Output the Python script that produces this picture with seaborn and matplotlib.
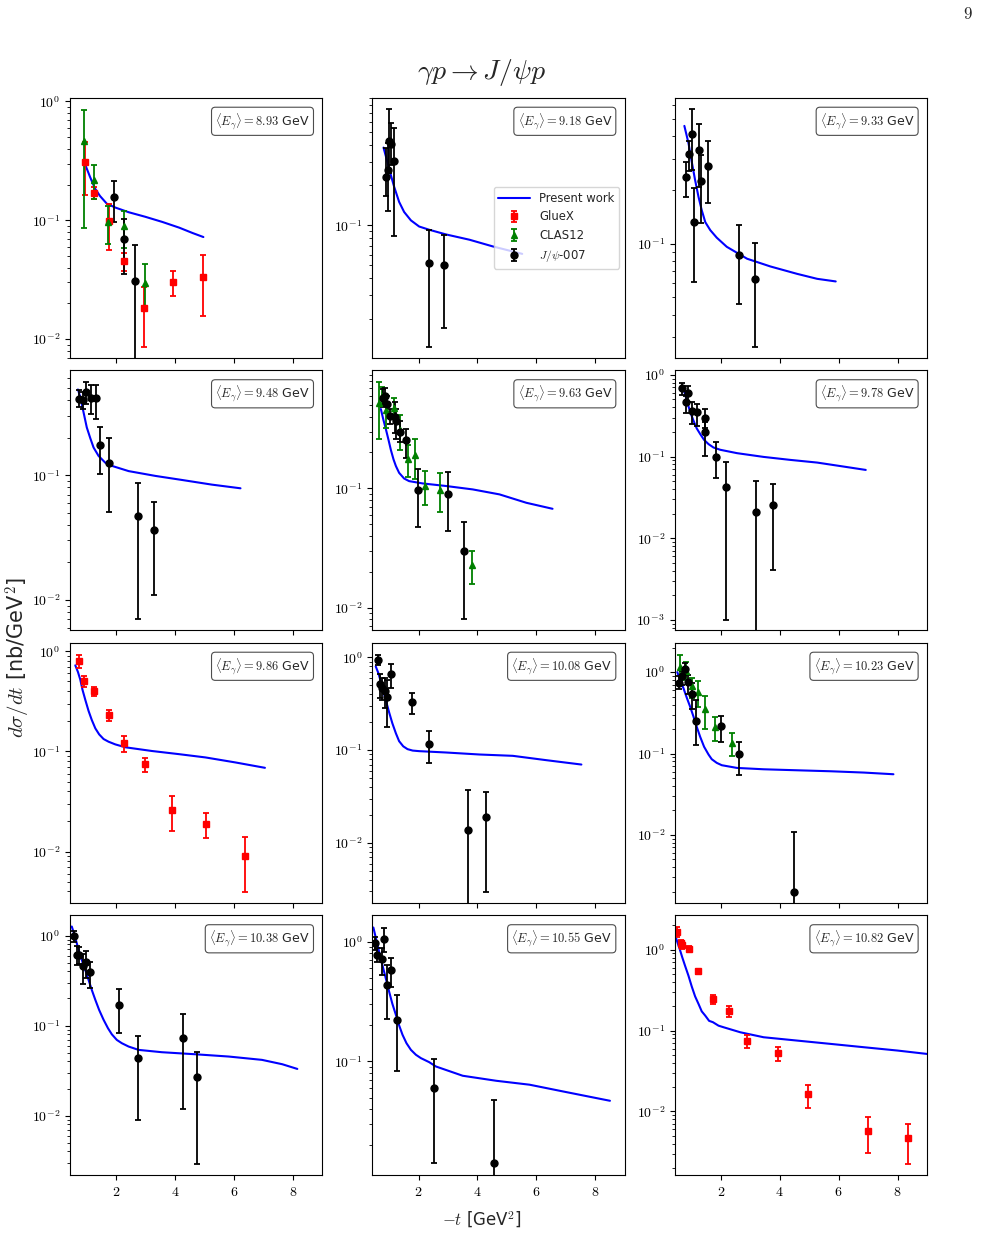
import numpy as np
import matplotlib
matplotlib.use("Agg")
import matplotlib.pyplot as plt
from matplotlib.ticker import FuncFormatter, NullFormatter
import seaborn as sns

# beam energies (one panel each)
ENERGIES = [8.93, 9.18, 9.33, 9.48, 9.63, 9.78, 9.86, 10.08, 10.23, 10.38, 10.55, 10.82]

# present work: -t [GeV^2], dsigma/dt [nb/GeV^2]
MODEL = {
    8.93: ([0.94, 1.11, 1.28, 1.45, 1.68, 1.97, 2.42, 2.99, 3.57, 4.14, 4.59, 4.96],
           [0.297, 0.232, 0.185, 0.160, 0.138, 0.128, 0.117, 0.107, 0.0968, 0.0867, 0.0782, 0.0723]),
    9.18: ([0.81, 0.94, 1.06, 1.17, 1.34, 1.51, 1.74, 2.02, 2.36, 2.93, 3.73, 4.52, 5.52],
           [0.383, 0.300, 0.238, 0.195, 0.150, 0.126, 0.109, 0.098, 0.0927, 0.0855, 0.078, 0.0695, 0.0611]),
    9.33: ([0.76, 0.90, 1.01, 1.125, 1.24, 1.35, 1.47, 1.64, 1.86, 2.2, 2.89, 3.68, 4.59, 5.27, 5.9],
           [0.457, 0.366, 0.288, 0.227, 0.183, 0.154, 0.132, 0.119, 0.108, 0.096, 0.0823, 0.0745, 0.0677, 0.0635, 0.0614]),
    9.48: ([0.70, 0.78, 0.89, 1.0, 1.12, 1.23, 1.40, 1.63, 1.85, 2.42, 3.33, 4.23, 5.25, 6.22],
           [0.488, 0.423, 0.320, 0.242, 0.198, 0.167, 0.143, 0.126, 0.119, 0.108, 0.0988, 0.0917, 0.0841, 0.0786]),
    9.63: ([0.72, 0.80, 0.89, 0.98, 1.06, 1.15, 1.23, 1.34, 1.51, 1.68, 2.14, 2.93, 3.84, 4.75, 5.66, 6.55],
           [0.463, 0.381, 0.314, 0.255, 0.210, 0.175, 0.154, 0.135, 0.121, 0.115, 0.110, 0.1047, 0.098, 0.089, 0.0757, 0.0674]),
    9.78: ([0.73, 0.78, 0.86, 0.955, 1.07, 1.18, 1.30, 1.43, 1.58, 1.75, 1.98, 2.55, 3.45, 4.36, 5.27, 6.18, 6.92],
           [0.705, 0.584, 0.461, 0.354, 0.275, 0.221, 0.188, 0.160, 0.142, 0.129, 0.121, 0.110, 0.099, 0.091, 0.0844, 0.0753, 0.0686]),
    9.86: ([0.61, 0.70, 0.78, 0.855, 0.95, 1.06, 1.17, 1.29, 1.42, 1.57, 1.74, 1.97, 2.31, 3.21, 4.12, 5.03, 6.05, 7.05],
           [0.724, 0.621, 0.520, 0.412, 0.327, 0.254, 0.206, 0.170, 0.148, 0.133, 0.125, 0.1175, 0.110, 0.101, 0.094, 0.0871, 0.0776, 0.0686]),
    10.08: ([0.545, 0.636, 0.716, 0.795, 0.886, 1.0, 1.11, 1.23, 1.34, 1.48, 1.625, 1.80, 2.02, 2.93, 4.07, 5.2, 6.34, 7.53],
            [0.80, 0.676, 0.550, 0.447, 0.348, 0.256, 0.195, 0.152, 0.125, 0.110, 0.1026, 0.099, 0.0976, 0.0944, 0.0898, 0.0869, 0.078, 0.070]),
    10.23: ([0.52, 0.61, 0.73, 0.84, 0.955, 1.07, 1.18, 1.295, 1.43, 1.58, 1.69, 1.86, 2.03, 2.545, 3.45, 4.59, 5.73, 6.86, 7.86],
            [1.0, 0.804, 0.634, 0.487, 0.377, 0.284, 0.213, 0.161, 0.121, 0.0972, 0.0851, 0.0767, 0.0718, 0.0665, 0.064, 0.0622, 0.0605, 0.0583, 0.0556]),
    10.38: ([0.49, 0.58, 0.66, 0.74, 0.83, 0.945, 1.06, 1.17, 1.29, 1.42, 1.57, 1.72, 1.85, 2.02, 2.19, 2.42, 2.76, 3.55, 4.69, 5.82, 6.95, 7.64, 8.15],
            [1.26, 1.02, 0.822, 0.664, 0.537, 0.416, 0.322, 0.249, 0.193, 0.149, 0.116, 0.0934, 0.080, 0.0693, 0.0637, 0.0585, 0.0537, 0.0506, 0.048, 0.0453, 0.0416, 0.0372, 0.033]),
    10.55: ([0.466, 0.52, 0.60, 0.68, 0.77, 0.886, 1.0, 1.11, 1.23, 1.34, 1.455, 1.59, 1.74, 1.91, 2.08, 2.36, 2.59, 3.5, 4.64, 5.77, 6.91, 7.93, 8.5],
            [1.31, 1.15, 0.95, 0.784, 0.640, 0.495, 0.383, 0.303, 0.245, 0.200, 0.167, 0.142, 0.125, 0.1137, 0.1066, 0.0987, 0.0908, 0.076, 0.069, 0.064, 0.0562, 0.0501, 0.047]),
    10.82: ([0.48, 0.545, 0.61, 0.69, 0.78, 0.90, 1.01, 1.125, 1.24, 1.35, 1.47, 1.60, 1.73, 1.92, 2.09, 2.66, 3.45, 4.59, 5.73, 6.86, 8.0, 9.0],
            [1.39, 1.175, 1.0, 0.804, 0.640, 0.477, 0.352, 0.265, 0.214, 0.173, 0.153, 0.132, 0.127, 0.115, 0.110, 0.0953, 0.0827, 0.0752, 0.0684, 0.0622, 0.0566, 0.0514]),
}

# data sets: (t, value, lower bound, upper bound); lower bound 0 = bar runs off the axis
GLUEX = {
    8.93: ([0.94, 1.26, 1.74, 2.26, 2.96, 3.94, 4.96],
           [0.311, 0.170, 0.098, 0.0453, 0.0183, 0.0305, 0.0334],
           [0.163, 0.150, 0.0565, 0.0378, 0.0086, 0.0231, 0.0156],
           [0.46, 0.19, 0.138, 0.053, 0.0277, 0.0373, 0.0513]),
    9.86: ([0.72, 0.89, 1.25, 1.74, 2.26, 2.99, 3.905, 5.06, 6.365],
           [0.806, 0.500, 0.397, 0.232, 0.120, 0.0746, 0.0258, 0.019, 0.00898],
           [0.680, 0.435, 0.359, 0.201, 0.0985, 0.0625, 0.0159, 0.0136, 0.00397],
           [0.926, 0.561, 0.435, 0.260, 0.143, 0.0863, 0.0359, 0.0243, 0.0139]),
    10.82: ([0.52, 0.64, 0.67, 0.92, 1.22, 1.73, 2.27, 2.89, 3.94, 4.955, 6.98, 8.36],
            [1.65, 1.21, 1.15, 1.03, 0.539, 0.249, 0.173, 0.0752, 0.053, 0.0164, 0.00577, 0.00468],
            [1.46, 1.07, 1.02, 0.96, 0.50, 0.216, 0.149, 0.0604, 0.0426, 0.011, 0.00306, 0.00223],
            [1.89, 1.33, 1.28, 1.10, 0.58, 0.279, 0.200, 0.0884, 0.0622, 0.0214, 0.0085, 0.00703]),
}

CLAS12 = {
    8.93: ([0.91, 1.26, 1.71, 2.25, 2.98],
           [0.466, 0.218, 0.0968, 0.089, 0.0295],
           [0.0867, 0.152, 0.0626, 0.0587, 0.0185],
           [0.851, 0.290, 0.131, 0.12, 0.043]),
    9.63: ([0.66, 0.77, 0.91, 1.15, 1.375, 1.625, 1.886, 2.23, 2.74, 3.81],
           [0.520, 0.600, 0.457, 0.469, 0.308, 0.178, 0.190, 0.1047, 0.0968, 0.0229],
           [0.262, 0.5, 0.324, 0.402, 0.210, 0.125, 0.119, 0.0719, 0.0636, 0.0158],
           [0.776, 0.704, 0.534, 0.570, 0.412, 0.230, 0.262, 0.140, 0.134, 0.0301]),
    10.23: ([0.61, 0.82, 1.03, 1.24, 1.47, 1.81, 2.375],
            [1.15, 1.04, 0.684, 0.577, 0.352, 0.209, 0.133],
            [0.767, 0.804, 0.478, 0.377, 0.198, 0.142, 0.0936],
            [1.64, 1.35, 0.843, 0.782, 0.515, 0.284, 0.180]),
}

JPSI007 = {
    8.93: ([1.94, 2.26, 2.65], [0.157, 0.0695, 0.0311], [0.0968, 0.0354, 0], [0.215, 0.103, 0.062]),
    9.18: ([0.886, 0.955, 1.0, 1.08, 1.15, 2.34, 2.875],
           [0.231, 0.260, 0.43, 0.405, 0.303, 0.052, 0.0505],
           [0.166, 0.128, 0.245, 0.283, 0.0826, 0.01225, 0.0171],
           [0.378, 0.413, 0.745, 0.583, 0.536, 0.0927, 0.084]),
    9.33: ([0.82, 0.93, 1.03, 1.10, 1.27, 1.31, 1.57, 2.625, 3.17],
           [0.235, 0.318, 0.412, 0.132, 0.333, 0.225, 0.273, 0.0860, 0.0635],
           [0.183, 0.256, 0.259, 0.0608, 0.209, 0.131, 0.168, 0.0456, 0.0264],
           [0.288, 0.378, 0.568, 0.204, 0.470, 0.314, 0.378, 0.127, 0.101]),
    9.48: ([0.75, 0.87, 0.98, 1.14, 1.32, 1.46, 1.76, 2.74, 3.29],
           [0.410, 0.405, 0.465, 0.415, 0.415, 0.175, 0.125, 0.047, 0.0362],
           [0.351, 0.340, 0.374, 0.310, 0.283, 0.103, 0.0509, 0.00698, 0.011],
           [0.479, 0.47, 0.558, 0.532, 0.532, 0.245, 0.198, 0.0873, 0.061]),
    9.63: ([0.80, 0.85, 0.94, 1.03, 1.19, 1.23, 1.36, 1.57, 1.98, 3.0, 3.56],
           [0.570, 0.600, 0.510, 0.407, 0.394, 0.369, 0.298, 0.255, 0.0962, 0.090, 0.0301],
           [0.479, 0.51, 0.435, 0.346, 0.294, 0.259, 0.243, 0.181, 0.0476, 0.0443, 0.00798],
           [0.682, 0.69, 0.600, 0.464, 0.527, 0.464, 0.369, 0.314, 0.145, 0.137, 0.052]),
    9.78: ([0.69, 0.80, 0.90, 1.01, 1.20, 1.47, 1.47, 1.82, 2.18, 3.19, 3.77],
           [0.692, 0.461, 0.601, 0.364, 0.348, 0.296, 0.197, 0.100, 0.0428, 0.0211, 0.0252],
           [0.568, 0.341, 0.461, 0.25, 0.238, 0.221, 0.102, 0.0542, 0.001, 0, 0.00405],
           [0.797, 0.557, 0.726, 0.461, 0.440, 0.382, 0.262, 0.149, 0.086, 0.0502, 0.0457]),
    10.08: ([0.625, 0.69, 0.77, 0.85, 0.94, 1.07, 1.77, 2.36, 3.68, 4.30],
            [0.928, 0.514, 0.466, 0.436, 0.378, 0.659, 0.334, 0.118, 0.0139, 0.019],
            [0.819, 0.363, 0.348, 0.283, 0.179, 0.466, 0.243, 0.0735, 0, 0.00297],
            [1.07, 0.659, 0.607, 0.597, 0.573, 0.853, 0.418, 0.161, 0.0369, 0.0354]),
    10.23: ([0.59, 0.67, 0.78, 0.90, 1.01, 1.15, 2.0, 2.625, 4.5],
            [0.731, 0.884, 1.09, 0.753, 0.535, 0.251, 0.217, 0.0981, 0.0020],
            [0.623, 0.698, 0.91, 0.535, 0.352, 0.127, 0.139, 0.0551, 0],
            [0.885, 1.04, 1.29, 0.927, 0.731, 0.455, 0.292, 0.139, 0.011]),
    10.38: ([0.57, 0.66, 0.75, 0.855, 0.97, 1.12, 2.11, 2.74, 4.26, 4.74],
            [1.0, 0.610, 0.610, 0.464, 0.506, 0.392, 0.170, 0.0434, 0.0736, 0.0269],
            [0.857, 0.472, 0.48, 0.288, 0.336, 0.260, 0.0822, 0.00895, 0.0119, 0.00288],
            [1.13, 0.774, 0.755, 0.621, 0.676, 0.514, 0.255, 0.0774, 0.134, 0.0506]),
    10.55: ([0.52, 0.60, 0.75, 0.83, 0.94, 1.08, 1.28, 2.53, 4.55],
            [0.98, 0.774, 0.717, 1.05, 0.435, 0.580, 0.220, 0.060, 0.0142],
            [0.853, 0.681, 0.527, 0.825, 0.227, 0.416, 0.0836, 0.0142, 0],
            [1.10, 0.88, 0.891, 1.29, 0.640, 0.736, 0.355, 0.105, 0.048]),
}

# y ranges of each panel
YLIM = [(0.0070, 1.07), (0.0102, 0.902), (0.0230, 0.655), (0.00573, 0.693),
        (0.00648, 0.975), (0.000754, 1.13), (0.0031, 1.21), (0.00228, 1.43),
        (0.001476, 2.28), (0.00219, 1.67), (0.0113, 1.65), (0.00163, 2.66)]

sns.set_theme(style="ticks")
plt.rcParams.update({
    "font.family": ["DejaVu Sans"],
    "font.size": 10,
    "mathtext.fontset": "cm",
    "axes.edgecolor": "black",
    "axes.linewidth": 0.8,
    "xtick.color": "black",
    "ytick.color": "black",
    "xtick.labelsize": 10,
    "ytick.labelsize": 10,
    "xtick.major.size": 3.5,
    "ytick.major.size": 3.5,
    "ytick.minor.size": 2,
    "xtick.major.width": 0.8,
    "ytick.major.width": 0.8,
    "ytick.minor.width": 0.6,
})


def decade_label(v, pos):
    if v <= 0:
        return ""
    e = int(np.round(np.log10(v)))
    return rf"$10^{{{e}}}$" if np.isclose(v, 10.0 ** e) else ""


fig, axes = plt.subplots(4, 3, figsize=(9.81, 12.37), sharex=True)
fig.subplots_adjust(left=70 / 981, right=927 / 981, top=1 - 98 / 1237,
                    bottom=1 - 1175 / 1237, wspace=0.198, hspace=0.05)

styles = [("GlueX", GLUEX, "s", "red"),
          ("CLAS12", CLAS12, "^", "green"),
          (r"$J/\psi$-007", JPSI007, "o", "black")]
handles = {}

for i, (ax, E) in enumerate(zip(axes.flat, ENERGIES)):
    ax.set_yscale("log")
    t_m, s_m = MODEL[E]
    sns.lineplot(x=t_m, y=s_m, ax=ax, color="blue", linewidth=1.5,
                 sort=False, estimator=None)
    if "model" not in handles:
        handles["model"] = ax.lines[0]
    for name, src, mk, col in styles:
        if E not in src:
            continue
        t, y, lo, hi = (np.array(a, dtype=float) for a in src[E])
        err = np.vstack([y - lo, hi - y])
        h = ax.errorbar(t, y, yerr=err, fmt=mk, color=col, ms=5,
                        elinewidth=1.3, capsize=2.5, capthick=1.3)
        handles.setdefault(name, h)
    ax.set_ylim(*YLIM[i])
    ax.set_xlim(0.43, 9.0)
    ax.set_xticks([2, 4, 6, 8])
    ax.xaxis.set_major_formatter(FuncFormatter(lambda v, p: rf"${v:g}$"))
    ax.yaxis.set_major_formatter(FuncFormatter(decade_label))
    ax.yaxis.set_minor_formatter(NullFormatter())
    ax.set_xlabel("")
    ax.set_ylabel("")
    ax.text(0.95, 0.95, rf"$\langle E_\gamma \rangle = {E:.2f}$ GeV",
            transform=ax.transAxes, ha="right", va="top", fontsize=9,
            bbox=dict(boxstyle="round,pad=0.3", facecolor="white",
                      edgecolor="0.3", linewidth=0.8))

leg_h = [handles["model"]] + [handles[n] for n, *_ in styles]
leg_l = ["Present work"] + [n for n, *_ in styles]
axes.flat[1].legend(leg_h, leg_l, loc="center right", fontsize=8.33,
                    handlelength=2.7)

fig.text(0.491, 1 - 72 / 1237, r"$\gamma p \to J/\psi p$", ha="center",
         va="center", fontsize=20)
fig.text(482 / 981, 1 - 1220 / 1237, r"$-t$ [GeV$^2$]", ha="center",
         va="center", fontsize=12)
fig.text(18 / 981, 1 - 657 / 1237, r"$d\sigma/dt$ [nb/GeV$^2$]",
         ha="center", va="center", rotation=90, fontsize=15)
fig.text(968 / 981, 1 - 14 / 1237, r"$9$", ha="center", va="center", fontsize=12)

fig.savefig("out.png", dpi=100)
